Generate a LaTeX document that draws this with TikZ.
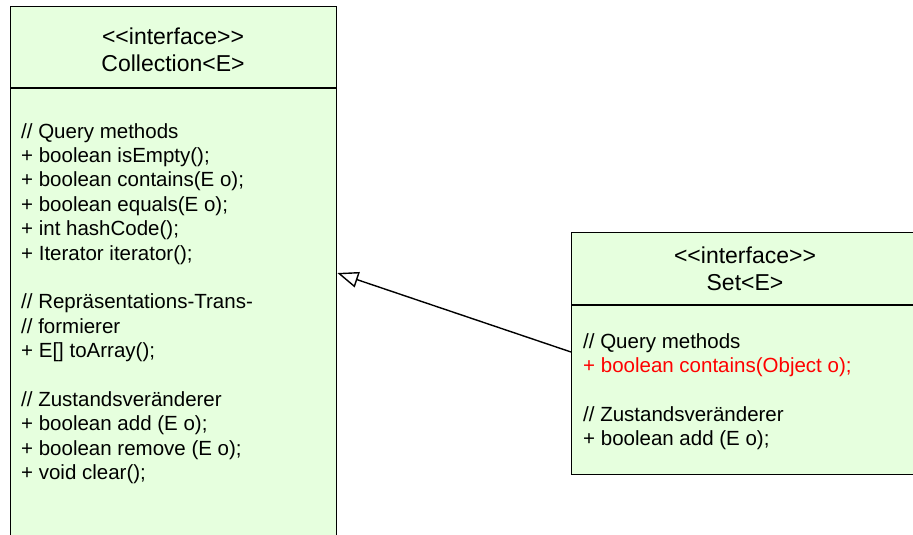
\documentclass[tikz,border=0pt]{standalone}
\usepackage{fontspec}
\newfontfamily\arialfont{Liberation Sans}
\usetikzlibrary{arrows.meta,calc}
\definecolor{boxfill}{RGB}{230,255,222}
\definecolor{methred}{RGB}{255,0,0}
\tikzset{
  umlbox/.style={draw=black, line width=1.4pt, fill=boxfill, rectangle, inner sep=0pt, anchor=north west},
  line/.style={anchor=base west, inner sep=0pt, font=\arialfont\fontsize{20.5}{24.4}\selectfont},
  head/.style={anchor=base, inner sep=0pt, font=\arialfont\fontsize{23}{26}\selectfont},
  gen/.style={line width=1.4pt, -{Triangle[open, length=21pt, width=16pt, fill=white]}}
}
\begin{document}
\begin{tikzpicture}[x=1pt,y=-1pt]
\useasboundingbox (0,0) rectangle (913,535);
\clip (0,0) rectangle (913,535);
% Collection box
\node[umlbox, minimum width=326pt, minimum height=560pt] (coll) at (10,6) {};
\draw[line width=1.4pt] (coll.north west) ++(0,82) coordinate (cdl) -- (cdl -| coll.east);
\node[head] (ch1) at (173,45) {<<interface>>};
\node[head] (ch2) at (173,71.5) {Collection<E>};
\foreach \t [count=\i from 0] in {{// Query methods},{+ boolean isEmpty();},{+ boolean contains(E o);},{+ boolean equals(E o);},{+ int hashCode();},{+ Iterator iterator();},{},{// Repräsentations-Trans-},{// formierer},{+ E[] toArray();},{},{// Zustandsveränderer},{+ boolean add (E o);},{+ boolean remove (E o);},{+ void clear();}}{
  \node[line] (cl\i) at (21,{138+24.4*\i}) {\t};
}
% Set box
\node[umlbox, minimum width=350pt, minimum height=242pt] (set) at (571,232) {};
\draw[line width=1.4pt] (set.north west) ++(0,73) coordinate (sdl) -- (sdl -| set.east);
\node[head] (sh1) at (745,263.5) {<<interface>>};
\node[head] (sh2) at (745,290) {Set<E>};
\node[line] (sl0) at (583,348) {// Query methods};
\node[line, text=methred] (sl1) at (583,372.3) {+ boolean contains(Object o);};
\node[line] (sl3) at (583,421) {// Zustandsveränderer};
\node[line] (sl4) at (583,445.3) {+ boolean add (E o);};
% generalization
\draw[gen] ($(set.north west)+(0,120)$) -- ($(coll.north east)+(0,267)$);
\end{tikzpicture}
\end{document}
